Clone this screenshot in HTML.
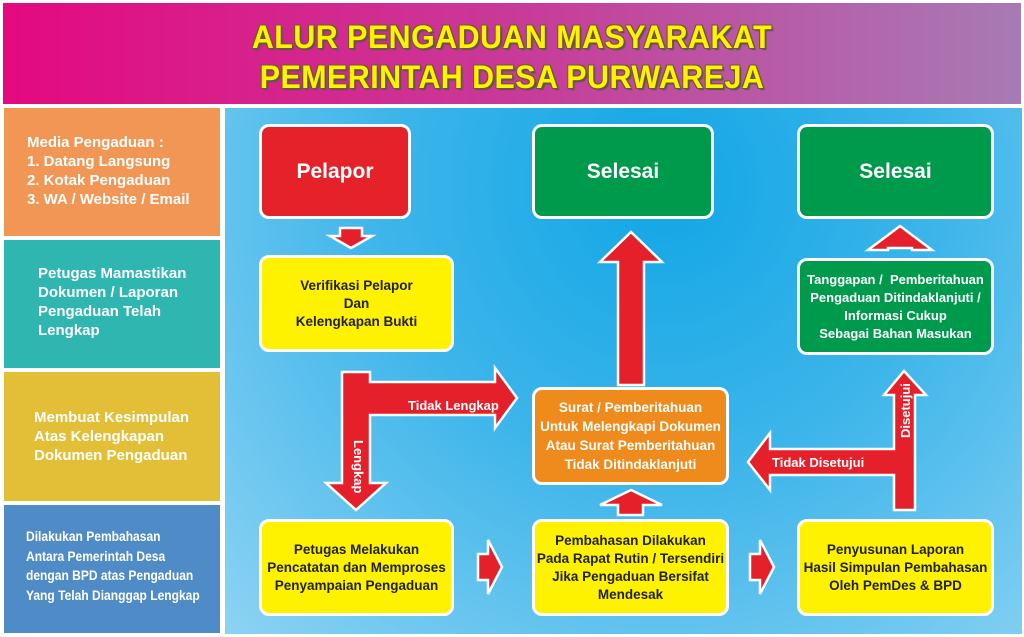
<!DOCTYPE html>
<html><head><meta charset="utf-8"><style>
*{margin:0;padding:0;box-sizing:border-box}
body{width:1024px;height:637px;background:#fff;position:relative;overflow:hidden;font-family:"Liberation Sans",sans-serif}
.hdr{position:absolute;left:3px;top:3px;width:1018px;height:101px;background:linear-gradient(90deg,#e4097f,#c93a98 50%,#a77bb4)}
.hdr div{position:absolute;left:0;width:100%;text-align:center;color:#fff200;font-weight:bold;font-size:32px;letter-spacing:0.5px;text-shadow:1px 1px 0 #6a5a30,-1px -1px 0 #6a5a30,1px -1px 0 #6a5a30,-1px 1px 0 #6a5a30,2px 2px 1px #555;transform:scaleX(0.95)}
.lp{position:absolute;left:4px;width:216px;color:#fff;font-weight:bold;font-size:15px;line-height:19px;white-space:nowrap}
.main{position:absolute;left:225px;top:108px;width:797px;height:526px;background:radial-gradient(ellipse at 55% 15%,#12a6e6,#3db5ea 45%,#8dd3f3 100%)}
.b{position:absolute;border:3px solid #fff;border-radius:10px;display:flex;align-items:center;justify-content:center;text-align:center;font-weight:bold}
.y{background:#fff200;color:#222;font-size:13.5px;line-height:18px}
svg{position:absolute;left:0;top:0}
</style></head><body>
<div class="hdr"><div style="top:16px">ALUR PENGADUAN MASYARAKAT</div><div style="top:56px">PEMERINTAH DESA PURWAREJA</div></div>
<div class="lp" style="top:108px;height:128px;background:#f19654;padding:25px 0 0 23px;line-height:19px">Media Pengaduan :<br>1. Datang Langsung<br>2. Kotak Pengaduan<br>3. WA / Website / Email</div>
<div class="lp" style="top:240px;height:128px;background:#2fb6b0;padding:24px 0 0 34px">Petugas Mamastikan<br>Dokumen / Laporan<br>Pengaduan Telah<br>Lengkap</div>
<div class="lp" style="top:372px;height:129px;background:#e2bf37;padding:36px 0 0 30px">Membuat Kesimpulan<br>Atas Kelengkapan<br>Dokumen Pengaduan</div>
<div class="lp" style="top:505px;height:128px;background:#4f8bc6"><div style="position:absolute;left:22px;top:22px;font-size:14px;line-height:19.5px;transform:scaleX(0.86);transform-origin:0 0">Dilakukan Pembahasan<br>Antara Pemerintah Desa<br>dengan BPD atas Pengaduan<br>Yang Telah Dianggap Lengkap</div></div>
<div class="main"></div>
<svg width="1024" height="637"><g fill="#e5202a" stroke="#fff" stroke-width="2.5" stroke-linejoin="miter">
<polygon points="340,228 362,228 362,236 372,236 351,248 330,236 340,236"/>
<polygon points="618,385 644,385 644,262 662,262 631,232 600,262 618,262"/>
<polygon points="888,248 912,248 912,250 932,250 900,226 868,250 888,250" />
<polygon points="342,372 370,372 370,382 495,382 495,368 517,398 495,428 495,415 370,415 370,483 386,483 356,510 326,483 342,483"/>
<polygon points="618,515 643,515 643,505 662,505 631,490 600,505 618,505"/>
<polygon points="478,554 488,554 488,540 502,567 488,594 488,580 478,580"/>
<polygon points="750,554 760,554 760,540 774,567 760,594 760,580 750,580"/>
<polygon points="915,510 894,510 894,475 770,475 770,490 748,462 770,433 770,449 894,449 894,395 884,395 904,371 926,395 915,395"/>
</g>
<g fill="#fff" font-weight="bold" font-size="13" font-family="Liberation Sans,sans-serif">
<text x="408" y="410">Tidak Lengkap</text>
<text x="772" y="467">Tidak Disetujui</text>
<text transform="translate(354,440) rotate(90)">Lengkap</text>
<text transform="translate(910,438) rotate(-90)">Disetujui</text>
</g></svg>
<div class="b" style="left:259px;top:124px;width:152px;height:95px;background:#e52229;color:#fff;font-size:21px">Pelapor</div>
<div class="b" style="left:532px;top:124px;width:182px;height:95px;background:#009a4c;color:#fff;font-size:21px">Selesai</div>
<div class="b" style="left:797px;top:124px;width:197px;height:95px;background:#009a4c;color:#fff;font-size:21px">Selesai</div>
<div class="b y" style="left:259px;top:255px;width:195px;height:97px">Verifikasi Pelapor<br>Dan<br>Kelengkapan Bukti</div>
<div class="b" style="left:797px;top:258px;width:197px;height:97px;background:#009a4c;color:#fff;font-size:13px;line-height:18px">Tanggapan /&nbsp; Pemberitahuan<br>Pengaduan Ditindaklanjuti /<br>Informasi Cukup<br>Sebagai Bahan Masukan</div>
<div class="b" style="left:532px;top:387px;width:197px;height:98px;background:#ef8a1c;color:#fff;font-size:13.5px;line-height:19px">Surat / Pemberitahuan<br>Untuk Melengkapi Dokumen<br>Atau Surat Pemberitahuan<br>Tidak Ditindaklanjuti</div>
<div class="b y" style="left:259px;top:519px;width:195px;height:97px">Petugas Melakukan<br>Pencatatan dan Memproses<br>Penyampaian Pengaduan</div>
<div class="b y" style="left:532px;top:519px;width:197px;height:97px">Pembahasan Dilakukan<br>Pada Rapat Rutin / Tersendiri<br>Jika Pengaduan Bersifat<br>Mendesak</div>
<div class="b y" style="left:797px;top:519px;width:197px;height:97px">Penyusunan Laporan<br>Hasil Simpulan Pembahasan<br>Oleh PemDes &amp; BPD</div>
</body></html>
